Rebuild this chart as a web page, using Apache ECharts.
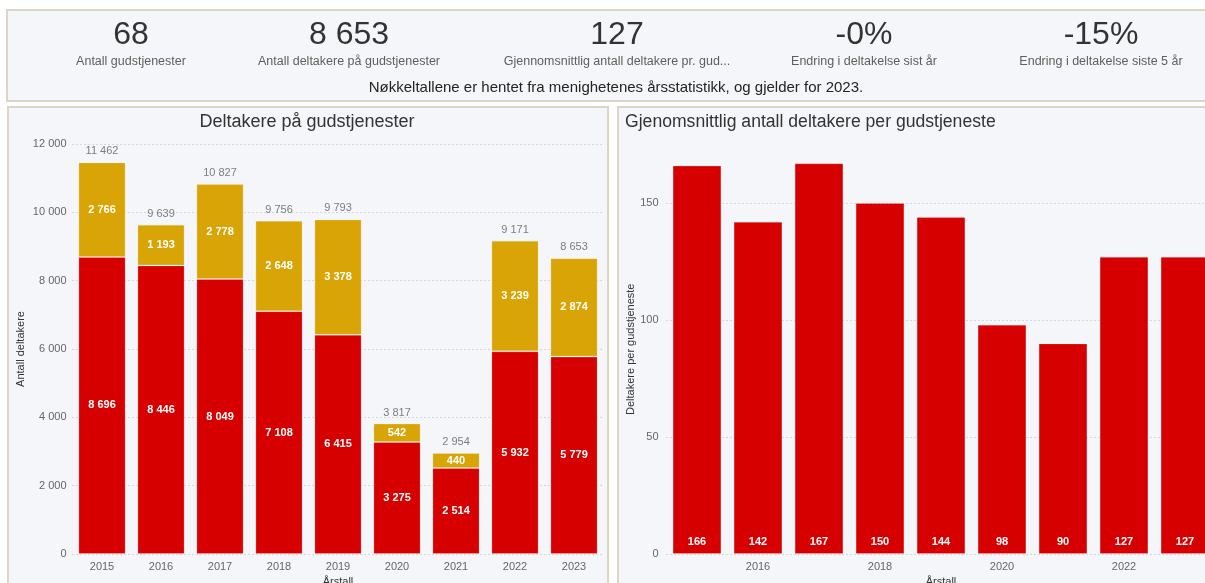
<!DOCTYPE html>
<html>
<head>
<meta charset="utf-8">
<script src="https://cdn.jsdelivr.net/npm/echarts@6/dist/echarts.min.js"></script>
<style>
  html, body { margin: 0; padding: 0; background: #ffffff; overflow: hidden; }
  #chart { width: 1205px; height: 583px; }
</style>
</head>
<body>
<div id="chart"></div>
<script>
// ---- data ----
const years = ['2015', '2016', '2017', '2018', '2019', '2020', '2021', '2022', '2023'];
const redSeries = [8696, 8446, 8049, 7108, 6415, 3275, 2514, 5932, 5779];
const goldSeries = [2766, 1193, 2778, 2648, 3378, 542, 440, 3239, 2874];
const avgPerService = [166, 142, 167, 150, 144, 98, 90, 127, 127];
const kpiValues = ['68', '8 653', '127', '-0%', '-15%'];
const kpiLabels = ['Antall gudstjenester', 'Antall deltakere på gudstjenester', 'Gjennomsnittlig antall deltakere pr. gud...', 'Endring i deltakelse sist år', 'Endring i deltakelse siste 5 år'];
const footnote = 'Nøkkeltallene er hentet fra menighetenes årsstatistikk, og gjelder for 2023.';
const leftTitle = 'Deltakere på gudstjenester';
const rightTitle = 'Gjenomsnittlig antall deltakere per gudstjeneste';

const totals = redSeries.map((v, i) => v + goldSeries[i]);

const FONT = '"Liberation Sans", Arial, sans-serif';
const RED = '#D60000';
const GOLD = '#D9A405';
const fmt = v => String(v).replace(/\B(?=(\d{3})+(?!\d))/g, ' ');

const kpiX = [131, 349, 617, 864, 1101];
const graphics = [
  { type: 'rect', z: -10, shape: { x: 7, y: 10, width: 1210, height: 91 }, style: { fill: '#f4f6fa', stroke: '#ddd5c5', lineWidth: 2 } },
  { type: 'rect', z: -10, shape: { x: 8, y: 107, width: 600, height: 490 }, style: { fill: '#f4f6fa', stroke: '#ddd5c5', lineWidth: 2 } },
  { type: 'rect', z: -10, shape: { x: 618, y: 107, width: 600, height: 490 }, style: { fill: '#f4f6fa', stroke: '#ddd5c5', lineWidth: 2 } },
  { type: 'text', x: 616, y: 88, style: { text: footnote, font: '15px ' + FONT, fill: '#252423', align: 'center', verticalAlign: 'middle' } },
  { type: 'text', x: 307, y: 122, style: { text: leftTitle, font: '18px ' + FONT, fill: '#333333', align: 'center', verticalAlign: 'middle' } },
  { type: 'text', x: 625, y: 122, style: { text: rightTitle, font: '17.6px ' + FONT, fill: '#333333', align: 'left', verticalAlign: 'middle' } }
];
kpiValues.forEach((v, i) => {
  graphics.push({ type: 'text', x: kpiX[i], y: 35, style: { text: v, font: '32px ' + FONT, fill: '#333333', align: 'center', verticalAlign: 'middle' } });
  graphics.push({ type: 'text', x: kpiX[i], y: 62, style: { text: kpiLabels[i], font: '12.5px ' + FONT, fill: '#605e5c', align: 'center', verticalAlign: 'middle' } });
});

const gridLine = { type: [1, 3], color: '#b8b8b8', width: 1 };

const chart = echarts.init(document.getElementById('chart'), null, { renderer: 'canvas' });
const option = {
  animation: false,
  textStyle: { fontFamily: FONT },
  graphic: graphics,
  grid: [
    { left: 72.5, right: 601.5, top: 144, bottom: 29, outerBoundsMode: 'none', containLabel: false },
    { left: 666.5, right: -10.5, top: 144.5, bottom: 29, outerBoundsMode: 'none', containLabel: false }
  ],
  xAxis: [
    { type: 'category', gridIndex: 0, data: years, name: 'Årstall', nameLocation: 'middle', nameGap: 22,
      nameTextStyle: { fontSize: 11, color: '#333' },
      axisLine: { show: false }, axisTick: { show: false },
      axisLabel: { fontSize: 11, color: '#666', margin: 7 } },
    { type: 'category', gridIndex: 1, data: years, name: 'Årstall', nameLocation: 'middle', nameGap: 22,
      nameTextStyle: { fontSize: 11, color: '#333' },
      axisLine: { show: false }, axisTick: { show: false },
      axisLabel: { fontSize: 11, color: '#666', margin: 7, interval: (idx) => idx % 2 === 1 } }
  ],
  yAxis: [
    { type: 'value', gridIndex: 0, min: 0, max: 12000, interval: 2000,
      name: 'Antall deltakere', nameLocation: 'middle', nameGap: 46, nameTextStyle: { fontSize: 11, color: '#333' },
      axisLabel: { fontSize: 11, color: '#666', formatter: fmt, margin: 6 },
      splitLine: { lineStyle: gridLine } },
    { type: 'value', gridIndex: 1, min: 0, max: 175, interval: 50,
      name: 'Deltakere per gudstjeneste', nameLocation: 'middle', nameGap: 30, nameTextStyle: { fontSize: 11, color: '#333' },
      axisLabel: { fontSize: 11, color: '#666', showMaxLabel: false, margin: 8 },
      splitLine: { showMaxLine: false, lineStyle: gridLine } }
  ],
  series: [
    { type: 'bar', name: 'red', xAxisIndex: 0, yAxisIndex: 0, stack: 'a', data: redSeries, barWidth: '80%',
      itemStyle: { color: RED, borderColor: 'rgba(255,255,255,0.2)', borderWidth: 1 },
      label: { show: true, position: 'inside', color: '#fff', fontSize: 11, fontWeight: 'bold', formatter: p => fmt(p.value) } },
    { type: 'bar', name: 'gold', xAxisIndex: 0, yAxisIndex: 0, stack: 'a', data: goldSeries, barWidth: '80%',
      itemStyle: { color: GOLD, borderColor: 'rgba(255,255,255,0.2)', borderWidth: 1 },
      label: { show: true, position: 'inside', color: '#fff', fontSize: 11, fontWeight: 'bold', formatter: p => fmt(p.value) } },
    { type: 'scatter', xAxisIndex: 0, yAxisIndex: 0, data: totals, symbolSize: 1, itemStyle: { color: 'rgba(0,0,0,0)' },
      label: { show: true, position: 'top', distance: 5, color: '#605e5c', fontSize: 11, formatter: p => fmt(p.value) } },
    { type: 'bar', xAxisIndex: 1, yAxisIndex: 1, data: avgPerService, barWidth: '80%',
      itemStyle: { color: RED, borderColor: 'rgba(255,255,255,0.2)', borderWidth: 1 },
      label: { show: true, position: 'insideBottom', distance: 7, color: '#fff', fontSize: 11, fontWeight: 'bold' } }
  ]
};
chart.setOption(option);
</script>
</body>
</html>
